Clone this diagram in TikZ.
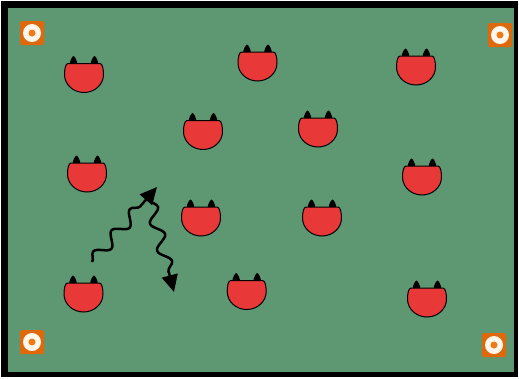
\documentclass[tikz,border=0pt]{standalone}
\usetikzlibrary{arrows.meta,decorations.pathmorphing}

\definecolor{pitch}{RGB}{94,152,114}
\definecolor{playerred}{RGB}{232,56,56}
\definecolor{coneorange}{RGB}{222,104,10}
\definecolor{conedot}{RGB}{240,122,24}
\definecolor{conering}{RGB}{255,246,236}

\tikzset{
  % a player seen from above: red body with two dark ears
  player/.pic={
    \fill[black] (-14.5,-12) .. controls (-14.5,-17) and (-11.5,-21.5) .. (-10.5,-21.5)
                 .. controls (-9.5,-21.5) and (-6.5,-17) .. (-6.5,-12) -- cycle;
    \fill[black] (6.5,-12) .. controls (6.5,-17) and (9.5,-21.5) .. (10.5,-21.5)
                 .. controls (11.5,-21.5) and (14.5,-17) .. (14.5,-12) -- cycle;
    \draw[fill=playerred, line width=1pt]
      (-16,-14) -- (16,-14)
      .. controls (18.5,-14) and (19.5,-8) .. (19.5,-3)
      arc[start angle=0, end angle=180, x radius=19.5, y radius=18]
      .. controls (-19.5,-8) and (-18.5,-14) .. (-16,-14) -- cycle;
  },
  % a marker cone: orange tile with a white ring
  cone/.pic={
    \fill[coneorange, rounded corners=2pt] (-12,-12) rectangle (12,12);
    \fill[conering] (0,0) circle (9);
    \fill[conedot] (0,0) circle (3.5);
  },
  run/.style={
    line width=2.5pt, black,
    decoration={snake, amplitude=6pt, segment length=28pt, post length=12pt},
    decorate
  },
  runtip/.style={-{Triangle[length=17pt,width=16pt]}}
}

\begin{document}
\begin{tikzpicture}[x=1pt,y=-1pt]
  \useasboundingbox (0,0) rectangle (519,378);
  % frame and pitch
  \fill[black] (1,1) rectangle (518,377);
  \fill[pitch] (8,8) rectangle (514,372);

  % corner cones
  \pic at (32,33) {cone};
  \pic at (500,35) {cone};
  \pic at (32,342) {cone};
  \pic at (494,345) {cone};

  % players
  \foreach \px/\py in {84/77.5, 257.5/66, 416/70,
                       203/134.5, 318/132,
                       87/177, 422/180,
                       201/221, 322/221,
                       83.5/297, 246.7/294.5, 427/302}
    \pic at (\px,\py) {player};

  % running path with a change of direction
  \coordinate (start) at (92,262);
  \coordinate (turn) at (157,187);
  \coordinate (restart) at (150,200);
  \coordinate (finish) at (174,292);
  \draw[run, runtip] (start) -- (turn);
  \draw[run, runtip] (restart) -- (finish);
\end{tikzpicture}
\end{document}
